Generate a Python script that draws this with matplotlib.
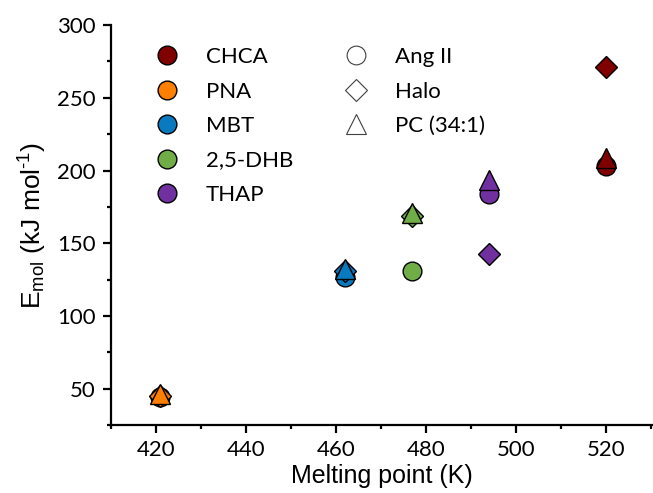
import numpy as np
import matplotlib
matplotlib.use('Agg')
from matplotlib import pyplot as plt
from matplotlib.lines import Line2D
from matplotlib.ticker import MultipleLocator

plt.rcParams['font.family'] = ['Lato', 'DejaVu Sans']
plt.rcParams['mathtext.default'] = 'regular'

# matrizes e ponto de fusao (K)
matrizes = ['CHCA', 'PNA', 'MBT', '2,5-DHB', 'THAP']
cores = ['#800000', '#FF8000', '#0A7AC0', '#70AD47', '#7030A0']
ponto_fusao = [520, 421, 462, 477, 494]

# E_mol (kJ/mol) para cada analito
ang_ii = [203, 44.5, 126.5, 131, 184]
halo = [271, 45, 131, 169, 142.5]
pc_34_1 = [208.5, 46.5, 132, 170.5, 193.5]

analitos = ['Ang II', 'Halo', 'PC (34:1)']
marcadores = ['o', 'D', '^']
tamanhos = [13.5, 11.5, 15]
valores = [ang_ii, halo, pc_34_1]

fig = plt.figure(figsize=(6.53, 4.93), dpi=100)
ax = fig.add_axes([0.170, 0.138, 0.830, 0.811])

for serie, marc, tam in zip(valores, marcadores, tamanhos):
    for x, y, cor in zip(ponto_fusao, serie, cores):
        ax.plot(x, y, marker=marc, markersize=tam, color=cor,
                markeredgecolor='black', markeredgewidth=1.0,
                linestyle='none', clip_on=False)

ax.set_xlim(410, 530.5)
ax.set_ylim(25, 300)
ax.xaxis.set_minor_locator(MultipleLocator(10))
ax.yaxis.set_minor_locator(MultipleLocator(25))
ax.set_yticks([50, 100, 150, 200, 250, 300])
ax.set_xticks([420, 440, 460, 480, 500, 520])

ax.spines['top'].set_visible(False)
ax.spines['right'].set_visible(False)
ax.spines['left'].set_linewidth(1.6)
ax.spines['bottom'].set_linewidth(1.6)
ax.tick_params(which='major', direction='out', length=5.8, width=1.6, labelsize=16, pad=5)
ax.tick_params(which='minor', direction='out', length=3, width=1.6)

ax.set_xlabel('Melting point (K)', fontsize=18, family='Liberation Sans', labelpad=3)
ax.set_ylabel('E$_{mol}$ (kJ mol$^{\u2010 1}$)', fontsize=19, family='Liberation Sans', labelpad=6)

# legenda das matrizes (cores)
h_cores = [Line2D([], [], marker='o', markersize=13.5, color=c, markeredgecolor='black',
                  markeredgewidth=1.0, linestyle='none') for c in cores]
leg1 = ax.legend(h_cores, matrizes, loc='upper left', bbox_to_anchor=(0.082, 0.945),
                 frameon=False, fontsize=16, handlelength=1.0, handletextpad=1.27,
                 labelspacing=0.65, borderpad=0, borderaxespad=0)
ax.add_artist(leg1)

# legenda dos analitos (formas)
h_formas = [Line2D([], [], marker=m, markersize=t, color='white', markeredgecolor='#404040',
                   markeredgewidth=0.8, linestyle='none')
            for m, t in zip(marcadores, [13.5, 11.5, 14])]
ax.legend(h_formas, analitos, loc='upper left', bbox_to_anchor=(0.431, 0.945),
          frameon=False, fontsize=16, handlelength=1.0, handletextpad=1.27,
          labelspacing=0.65, borderpad=0, borderaxespad=0)

plt.savefig('out.png', dpi=100)
